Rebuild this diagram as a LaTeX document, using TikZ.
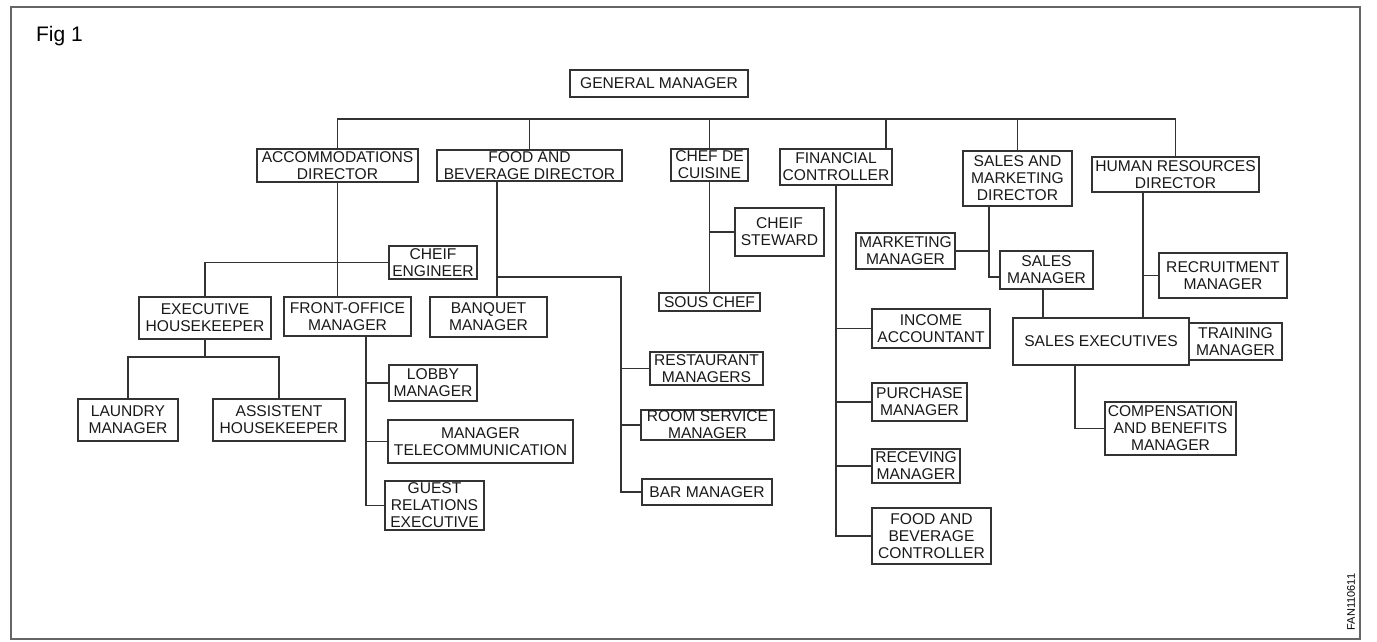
\documentclass[tikz,border=0pt]{standalone}
\usepackage{fontspec}
\setmainfont{Liberation Sans}
\tikzset{
  box/.style={draw=black!80, line width=0.6pt, inner sep=0pt, align=center,
    font=\fontsize{7.8}{8.5}\selectfont, text=black!90},
  link/.style={draw=black!80, line width=0.6pt}
}
\newcommand\obox[6]{\node[box, minimum width={(#4-#2)*0.5pt}, minimum height={(#5-#3)*0.5pt}] (#1) at ({(#2+#4)/2},{(#3+#5)/2}) {#6};}
\begin{document}
\begin{tikzpicture}[x=0.5pt,y=-0.5pt]
\useasboundingbox (0,0) rectangle (1377,642);
\draw[black!60, line width=0.8pt] (11,7) rectangle (1360,639);
\node[anchor=base west, font=\fontsize{10.5}{12}\selectfont] (fig) at (29,42) {Fig 1};
\node[rotate=90, font=\fontsize{5.5}{6}\selectfont] (code) at (1351,602) {FAN110611};

\obox{gm}{570}{70}{748}{97}{GENERAL MANAGER}
\obox{acc}{257}{149}{418}{182}{ACCOMMODATIONS\\DIRECTOR}
\obox{fb}{437}{150}{622}{181}{FOOD AND\\BEVERAGE DIRECTOR}
\obox{chef}{671}{149}{748}{181}{CHEF DE\\CUISINE}
\obox{fin}{780}{149}{892}{185}{FINANCIAL\\CONTROLLER}
\obox{sm}{963}{151}{1072}{206}{SALES AND\\MARKETING\\DIRECTOR}
\obox{hr}{1092}{157}{1259}{192}{HUMAN RESOURCES\\DIRECTOR}
\obox{ce}{389}{246}{477}{279}{CHEIF\\ENGINEER}
\obox{eh}{139}{297}{271}{339}{EXECUTIVE\\HOUSEKEEPER}
\obox{fo}{284}{297}{411}{336}{FRONT-OFFICE\\MANAGER}
\obox{lm}{78}{399}{178}{441}{LAUNDRY\\MANAGER}
\obox{ah}{213}{399}{345}{441}{ASSISTENT\\HOUSEKEEPER}
\obox{lob}{389}{365}{477}{401}{LOBBY\\MANAGER}
\obox{mt}{388}{420}{573}{463}{MANAGER\\TELECOMMUNICATION}
\obox{gre}{385}{481}{484}{530}{GUEST\\RELATIONS\\EXECUTIVE}
\obox{bq}{430}{297}{547}{337}{BANQUET\\MANAGER}
\obox{cs}{735}{208}{824}{256}{CHEIF\\STEWARD}
\obox{sc}{659}{293}{760}{311}{SOUS CHEF}
\obox{rm}{650}{352}{763}{385}{RESTAURANT\\MANAGERS}
\obox{rs}{641}{410}{774}{440}{ROOM SERVICE\\MANAGER}
\obox{bar}{642}{479}{772}{505}{BAR MANAGER}
\obox{mm}{856}{233}{955}{269}{MARKETING\\MANAGER}
\obox{smg}{1000}{251}{1093}{289}{SALES\\MANAGER}
\obox{se}{1013}{318}{1189}{365}{SALES EXECUTIVES}
\obox{rec}{1159}{253}{1287}{298}{RECRUITMENT\\MANAGER}
\obox{tm}{1189}{323}{1282}{360}{TRAINING\\MANAGER}
\obox{cb}{1105}{402}{1236}{455}{COMPENSATION\\AND BENEFITS\\MANAGER}
\obox{ia}{872}{309}{990}{348}{INCOME\\ACCOUNTANT}
\obox{pm}{872}{383}{967}{421}{PURCHASE\\MANAGER}
\obox{rv}{872}{449}{960}{483}{RECEVING\\MANAGER}
\obox{fbc}{872}{508}{991}{564}{FOOD AND\\BEVERAGE\\CONTROLLER}

% top bus
\coordinate (bus) at (0,119);
\draw[link] (acc.north) -- (acc.north |- bus) -| (hr.north);
\foreach \n in {fb,chef,sm} \draw[link] (\n.north) -- (\n.north |- bus);
\coordinate (finx) at (886,0);
\draw[link] (finx |- fin.north) -- (finx |- bus);

% accommodations
\draw[link] (acc.south) -- (acc.south |- fo.north);
\draw[link] (ce.west) -| (eh.north);
\coordinate (ehbar) at (0,357);
\draw[link] (eh.south) -- (eh.south |- ehbar);
\draw[link] (lm.north) |- (ehbar -| ah.north) -- (ah.north);

% front office
\coordinate (fox) at (366,0);
\draw[link] (fox |- fo.south) |- (gre.west);
\draw[link] (fox |- lob.west) -- (lob.west);
\draw[link] (fox |- mt.west) -- (mt.west);

% food and beverage
\coordinate (fbx) at (497,0);
\coordinate (fbbar) at (0,277);
\coordinate (fbr) at (621,0);
\draw[link] (fbx |- fb.south) -- (fbx |- bq.north);
\draw[link] (fbx |- fbbar) -| (fbr |- bar.west) -- (bar.west);
\draw[link] (fbr |- rm.west) -- (rm.west);
\draw[link] (fbr |- rs.west) -- (rs.west);

% chef
\draw[link] (chef.south) -- (sc.north);
\draw[link] (cs.west) -- (cs.west -| chef.south);

% finance
\draw[link] (fin.south) |- (fbc.west);
\foreach \n in {ia,pm,rv} \draw[link] (\n.west) -- (\n.west -| fin.south);

% sales and marketing
\coordinate (smx) at (989,0);
\coordinate (smy) at (0,277);
\draw[link] (smx |- sm.south) |- (smg.west |- smy);
\draw[link] (mm.east) -- (mm.east -| smx);
\coordinate (smgx) at (1043,0);
\draw[link] (smgx |- smg.south) -- (smgx |- se.north);

% human resources
\coordinate (hrx) at (1143,0);
\draw[link] (hrx |- hr.south) -- (hrx |- se.north);
\draw[link] (rec.west) -- (rec.west -| hrx);
\coordinate (sex) at (1075,0);
\draw[link] (sex |- se.south) |- (cb.west);
\end{tikzpicture}
\end{document}
